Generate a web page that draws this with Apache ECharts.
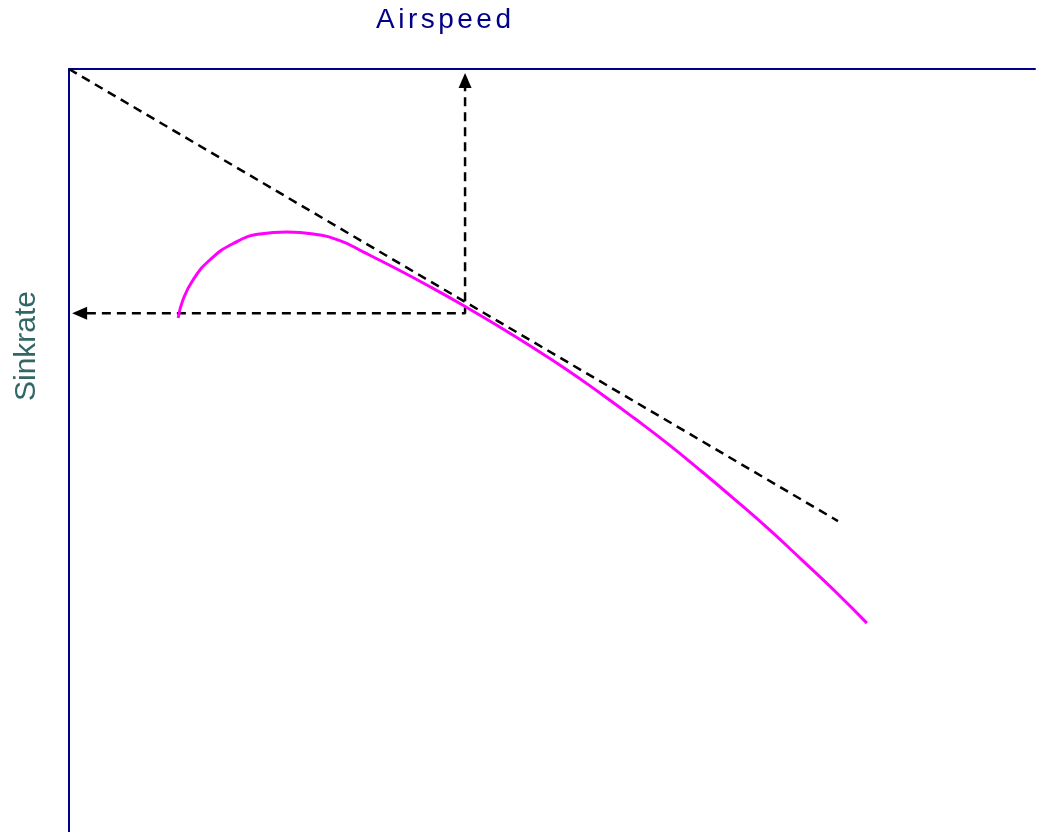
<!DOCTYPE html>
<html>
<head>
<meta charset="utf-8">
<title>Glider polar</title>
<script src="https://cdn.jsdelivr.net/npm/echarts@6/dist/echarts.min.js"></script>
<style>
  html, body { margin: 0; padding: 0; background: #ffffff; }
  #chart { width: 1040px; height: 832px; }
</style>
</head>
<body>
<div id="chart"></div>
<script>
// Axis captions
const xAxisName = 'Airspeed';
const yAxisName = 'Sinkrate';

// Speed polar: airspeed (km/h) against sink rate (m/s)
const polarSpeed = [22.6, 23.6, 25.7, 29.2, 34.0, 39.5, 45.1, 50.6, 56.1, 61.0, 68.0, 75.0, 82.0,
                    89.0, 96.0, 103.0, 110.0, 117.0, 124.0, 131.0, 138.0, 145.0, 152.0, 158.5, 165.2];
const polarSink  = [2.61, 2.42, 2.21, 2.00, 1.83, 1.73, 1.71, 1.73, 1.80, 1.92, 2.10, 2.29, 2.49,
                    2.70, 2.92, 3.15, 3.40, 3.66, 3.93, 4.22, 4.52, 4.83, 5.16, 5.47, 5.81];

// Tangent from the origin (best glide) and its touching point
const tangentSpeed = [0, 159.2];
const tangentSink  = [0, 4.74];
const bestGlideSpeed = 82.0;
const bestGlideSink  = 2.56;

// Dashed read-off guides to both axes, with their arrow tips
const guideSpeed = [3.7, bestGlideSpeed, bestGlideSpeed];
const guideSink  = [bestGlideSink, bestGlideSink, 0.2];
const arrowSpeed = [2.2, bestGlideSpeed];
const arrowSink  = [bestGlideSink, 0.12];
const arrowRotate = [90, 0];

// Axis ranges
const speedMax = 200;
const sinkMax = 8;

// zrender has no letter-spacing option: widen the tracking of the airspeed caption only
const baseFillText = CanvasRenderingContext2D.prototype.fillText;
CanvasRenderingContext2D.prototype.fillText = function (text) {
  if ('letterSpacing' in this) {
    const spacing = text === xAxisName ? '3.5px' : '0px';
    if (this.letterSpacing !== spacing) {
      this.letterSpacing = spacing;
      this.font = this.font;
    }
  }
  return baseFillText.apply(this, arguments);
};

const zip = (a, b) => a.map((v, i) => [v, b[i]]);
const axisColor = '#000088';
const font = '"Liberation Sans", Arial, sans-serif';

const chart = echarts.init(document.getElementById('chart'), null, { renderer: 'canvas' });
chart.setOption({
  animation: false,
  backgroundColor: '#ffffff',
  grid: { left: 69, top: 69, right: 5, bottom: 0, containLabel: false },
  xAxis: {
    type: 'value', position: 'top', min: 0, max: speedMax,
    axisLine: { onZero: false, lineStyle: { color: axisColor, width: 2 } },
    axisTick: { show: false }, axisLabel: { show: false }, splitLine: { show: false }
  },
  yAxis: {
    type: 'value', inverse: true, min: 0, max: sinkMax,
    axisLine: { onZero: false, lineStyle: { color: axisColor, width: 2 } },
    axisTick: { show: false }, axisLabel: { show: false }, splitLine: { show: false }
  },
  graphic: [
    {
      type: 'text', x: 27, y: 346, rotation: Math.PI / 2,
      style: { text: yAxisName, fill: '#336666', font: '30px ' + font,
               textAlign: 'center', textVerticalAlign: 'middle' }
    },
    {
      type: 'text', x: 376, y: 20,
      style: { text: xAxisName, fill: '#000088', font: '28px ' + font,
               textAlign: 'left', textVerticalAlign: 'middle' }
    }
  ],
  series: [
    {
      type: 'line', data: zip(tangentSpeed, tangentSink), symbol: 'none', silent: true,
      lineStyle: { color: '#000000', width: 2.5, type: [9, 6] }
    },
    {
      type: 'line', data: zip(guideSpeed, guideSink), symbol: 'none', silent: true,
      lineStyle: { color: '#000000', width: 2.5, type: [9, 6] }
    },
    {
      type: 'scatter', silent: true, symbol: 'triangle', symbolSize: [13, 15],
      data: arrowSpeed.map((v, i) => ({ value: [v, arrowSink[i]], symbolRotate: arrowRotate[i] })),
      itemStyle: { color: '#000000', opacity: 1 }
    },
    {
      type: 'line', data: zip(polarSpeed, polarSink), symbol: 'none', silent: true, smooth: 0.5,
      lineStyle: { color: '#ff00ff', width: 3 }
    }
  ]
});
</script>
</body>
</html>
